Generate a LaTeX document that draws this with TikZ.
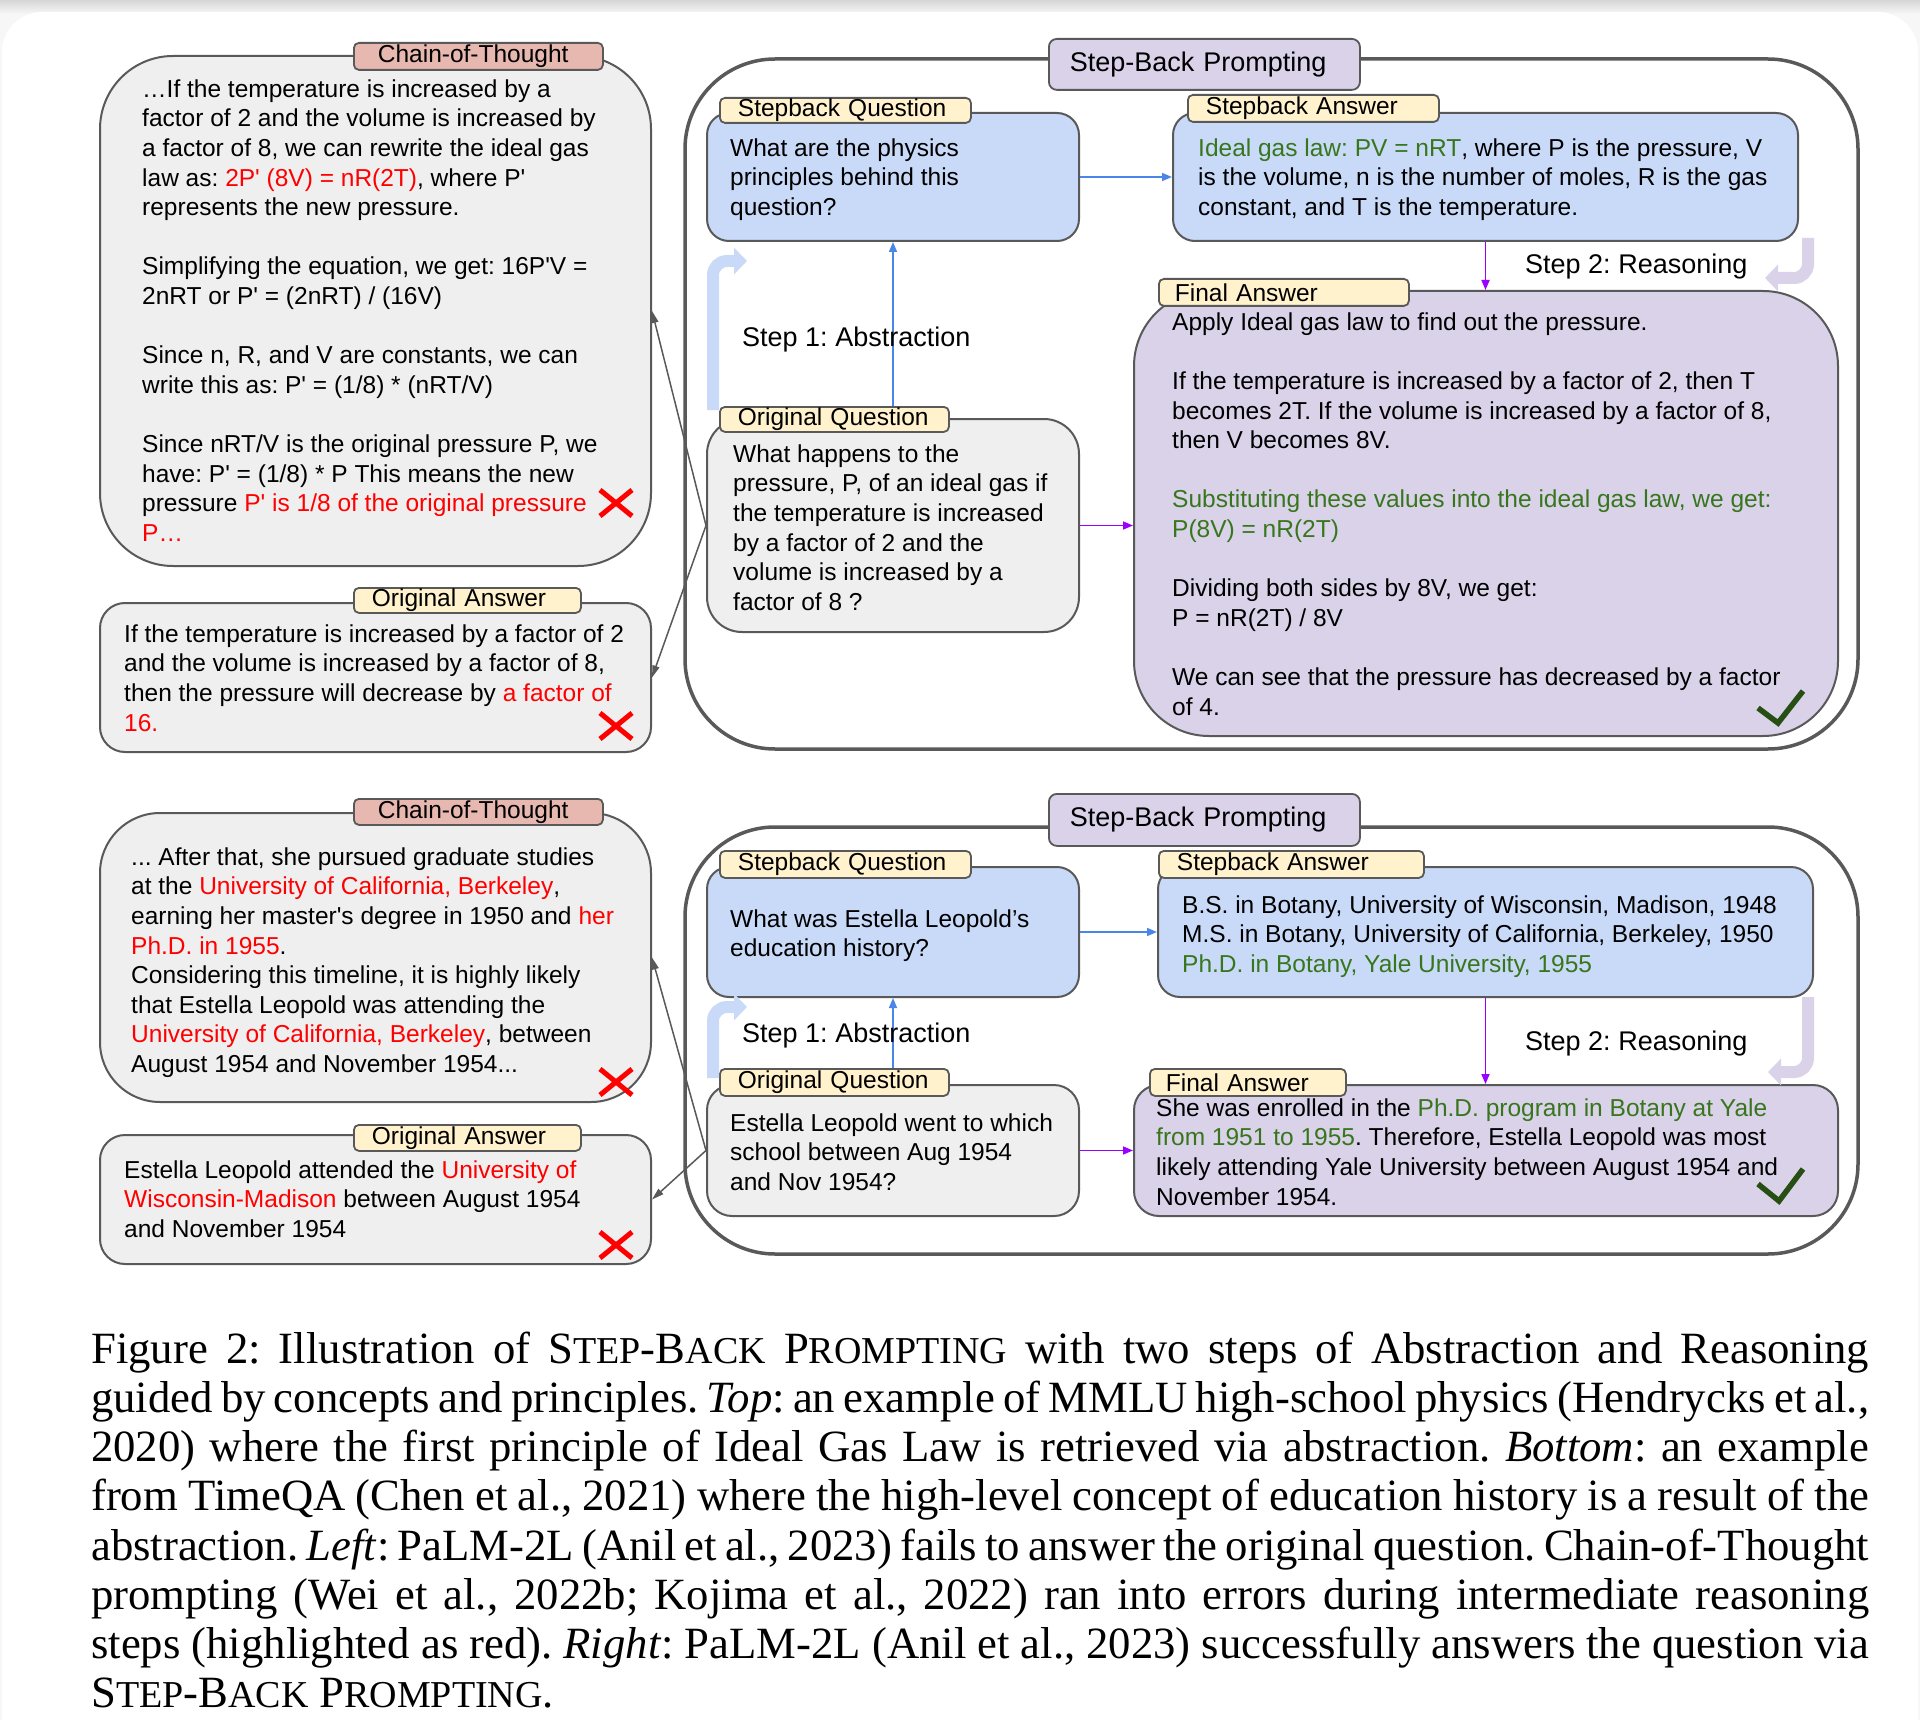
\documentclass[tikz,border=0pt]{standalone}
\usepackage{fontspec}
\setmainfont{Liberation Sans}
\newfontfamily\capfont{Liberation Serif}
\usetikzlibrary{arrows.meta,fit,calc}
\definecolor{bd}{HTML}{595959}
\definecolor{tabyel}{HTML}{FFF2CC}
\definecolor{tabred}{HTML}{E6B8AF}
\definecolor{lav}{HTML}{D9D2E9}
\definecolor{boxgray}{HTML}{EFEFEF}
\definecolor{boxblue}{HTML}{C9DAF8}
\definecolor{txtred}{HTML}{FF0000}
\definecolor{txtgreen}{HTML}{38761D}
\definecolor{chk}{HTML}{274E13}
\definecolor{arblue}{HTML}{4A86E8}
\definecolor{arpurp}{HTML}{9900FF}
\newcommand\rd[1]{\textcolor{txtred}{#1}}
\newcommand\gn[1]{\textcolor{txtgreen}{#1}}
\newcommand\fst{\rule{0pt}{22pt}}
\newcommand\bsk{\\[29.6pt]}
\newcommand\apos{\textquotesingle}
\newcommand\bodyf{\fontsize{24.5}{29.6}\selectfont}
\newcommand\capf{\capfont\fontsize{44.7}{49.2}\selectfont\spaceskip=11pt plus 13pt minus 6pt\relax}
\newcommand\smc[1]{{\fontsize{38}{49.2}\selectfont #1}}
\newcommand\sbp{S\smc{TEP}-B\smc{ACK} P\smc{ROMPTING}}
\newcommand\cl[1]{\makebox[1778pt][s]{#1}}
\frenchspacing
\begin{document}
\begin{tikzpicture}[x=1pt,y=-1pt,
  box/.style={draw=bd, line width=2pt, inner sep=0pt},
  frm/.style={draw=bd, line width=3.5pt, inner sep=0pt, rounded corners=90pt},
  tabb/.style={draw=bd, line width=1.8pt, rounded corners=5pt, inner xsep=18pt, inner ysep=0pt, align=left, font=\bodyf, anchor=north west},
  txt/.style={anchor=north west, inner sep=0pt, align=left, font=\bodyf},
  steplbl/.style={anchor=base west, inner sep=0pt, font=\fontsize{27}{32}\selectfont},
  garrow/.style={draw=bd, line width=1.5pt, -{Triangle[length=12pt,width=7pt]}},
  barrow/.style={draw=arblue, line width=1.6pt, -{Triangle[length=10pt,width=8pt]}},
  parrow/.style={draw=arpurp, line width=1.6pt, -{Triangle[length=10pt,width=8pt]}},
  bent/.style={line width=12pt, rounded corners=14pt, -{Triangle[length=13pt,width=26pt]}},
  redx/.pic={\draw[txtred, line width=5pt] (-16,-13) -- (16,13) (-16,13) -- (16,-13);},
]
\useasboundingbox (0,0) rectangle (1920,1720);
% background card
\fill[black!3] (0,0) rectangle (1920,1720);
\shade[top color=black!16, bottom color=black!3] (0,0) rectangle (1920,14);
\fill[white, rounded corners=40pt] (2,12) rectangle (1918,1780);

% ================= TOP =================
\node[frm, fit={(685,59) (1858,749)}] (frame1) {};
\node[box, fill=boxgray, rounded corners=73pt, fit={(100,56) (651,566)}] (cot1) {};
\node[box, fill=boxgray, rounded corners=25pt, fit={(100,603) (651,752)}] (oa1) {};
\node[box, fill=boxblue, rounded corners=22pt, fit={(707,113) (1079,241)}] (sq1) {};
\node[box, fill=boxblue, rounded corners=22pt, fit={(1173,113) (1798,241)}] (sa1) {};
\node[box, fill=lav, rounded corners=75pt, fit={(1134,291) (1838,736)}] (fa1) {};
\node[box, fill=boxgray, rounded corners=35pt, fit={(707,419) (1079,632)}] (oq1) {};

\node[tabb, fill=tabred, text width=201pt, inner xsep=24pt, minimum height=27pt] (cottab1) at (353,42) {Chain-of-Thought};
\node[tabb, fill=tabyel, text width=191pt, minimum height=25pt] (oatab1) at (353,587) {Original Answer};
\node[tabb, fill=lav, text width=269pt, inner xsep=21pt, minimum height=51pt, font=\fontsize{27}{32}\selectfont, rounded corners=8pt] (spbtab1) at (1048,38) {Step-Back Prompting};
\node[tabb, fill=tabyel, text width=215pt, minimum height=25pt] (sqtab1) at (719,97) {Stepback Question};
\node[tabb, fill=tabyel, text width=215pt, minimum height=27pt] (satab1) at (1187,94) {Stepback Answer};
\node[tabb, fill=tabyel, text width=218pt, inner xsep=16pt, minimum height=27pt] (fatab1) at (1158,278) {Final Answer};
\node[tabb, fill=tabyel, text width=193pt, minimum height=25pt] (oqtab1) at (719,406) {Original Question};

% bent decorative arrows
\coordinate (ba1s) at (713,410); \coordinate (ba1c) at (713,261); \coordinate (ba1e) at (747,261);
\draw[bent, boxblue] (ba1s) -- (ba1c) -- (ba1e);
\coordinate (pa1s) at (1808,238); \coordinate (pa1c) at (1808,278); \coordinate (pa1e) at (1765,278);
\draw[bent, lav] (pa1s) -- (pa1c) -- (pa1e);

% connectors
\draw[garrow] (oq1.west) -- (cot1.east);
\draw[garrow] (oq1.west) -- (oa1.east);
\draw[barrow] (sq1.east) -- (sa1.west);
\draw[barrow] (oq1.north |- oqtab1.north) -- (sq1.south);
\draw[parrow] (sa1.south) -- (sa1.south |- fa1.north);
\draw[parrow] (oq1.east) -- (oq1.east -| fa1.west);

% texts
\node[txt] (cot1t) at (142,75) {\fst…If the temperature is increased by a\\
factor of 2 and the volume is increased by\\
a factor of 8, we can rewrite the ideal gas\\
law as: \rd{2P\apos{} (8V) = nR(2T)}, where P\apos\\
represents the new pressure.\bsk
Simplifying the equation, we get: 16P\apos V =\\
2nRT or P\apos{} = (2nRT) / (16V)\bsk
Since n, R, and V are constants, we can\\
write this as: P\apos{} = (1/8) * (nRT/V)\bsk
Since nRT/V is the original pressure P, we\\
have: P\apos{} = (1/8) * P This means the new\\
pressure \rd{P\apos{} is 1/8 of the original pressure}\\
\rd{P…}};
\node[txt] (oa1t) at (124,620) {\fst If the temperature is increased by a factor of 2\\
and the volume is increased by a factor of 8,\\
then the pressure will decrease by \rd{a factor of}\\
\rd{16.}};
\node[txt] (sq1t) at (730,134) {\fst What are the physics\\principles behind this\\question?};
\node[txt] (sa1t) at (1198,134) {\fst\gn{Ideal gas law: PV = nRT}, where P is the pressure, V\\
is the volume, n is the number of moles, R is the gas\\
constant, and T is the temperature.};
\node[txt] (fa1t) at (1172,308) {\fst Apply Ideal gas law to find out the pressure.\bsk
If the temperature is increased by a factor of 2, then T\\
becomes 2T. If the volume is increased by a factor of 8,\\
then V becomes 8V.\bsk
\gn{Substituting these values into the ideal gas law, we get:}\\
\gn{P(8V) = nR(2T)}\bsk
Dividing both sides by 8V, we get:\\
P = nR(2T) / 8V\bsk
We can see that the pressure has decreased by a factor\\
of 4.};
\node[txt] (oq1t) at (733,440) {\fst What happens to the\\
pressure, P, of an ideal gas if\\
the temperature is increased\\
by a factor of 2 and the\\
volume is increased by a\\
factor of 8 ?};
\node[steplbl] (st1a) at (742,346) {Step 1: Abstraction};
\node[steplbl] (st2a) at (1525,274) {Step 2: Reasoning};

\pic at (616,503) {redx};
\pic at (616,726) {redx};
\draw[chk, line width=5.5pt] (1758,708) -- (1778,723) -- (1803,691);

% ================= BOTTOM =================
\node[frm, fit={(685,827) (1858,1254)}] (frame2) {};
\node[box, fill=boxgray, rounded corners=60pt, fit={(100,813) (651,1102)}] (cot2) {};
\node[box, fill=boxgray, rounded corners=25pt, fit={(100,1135) (651,1264)}] (oa2) {};
\node[box, fill=boxblue, rounded corners=22pt, fit={(707,867) (1079,997)}] (sq2) {};
\node[box, fill=boxblue, rounded corners=22pt, fit={(1158,867) (1813,997)}] (sa2) {};
\node[box, fill=lav, rounded corners=25pt, fit={(1134,1085) (1838,1216)}] (fa2) {};
\node[box, fill=boxgray, rounded corners=25pt, fit={(707,1085) (1079,1216)}] (oq2) {};

\node[tabb, fill=tabred, text width=201pt, inner xsep=24pt, minimum height=26pt] (cottab2) at (353,798) {Chain-of-Thought};
\node[tabb, fill=tabyel, text width=191pt, minimum height=26pt] (oatab2) at (353,1124) {Original Answer};
\node[tabb, fill=lav, text width=269pt, inner xsep=21pt, minimum height=52pt, font=\fontsize{27}{32}\selectfont, rounded corners=8pt] (spbtab2) at (1048,793) {Step-Back Prompting};
\node[tabb, fill=tabyel, text width=215pt, minimum height=27pt] (sqtab2) at (719,850) {Stepback Question};
\node[tabb, fill=tabyel, text width=229pt, minimum height=27pt] (satab2) at (1158,850) {Stepback Answer};
\node[tabb, fill=tabyel, text width=164pt, inner xsep=16pt, minimum height=27pt] (fatab2) at (1149,1068) {Final Answer};
\node[tabb, fill=tabyel, text width=193pt, minimum height=27pt] (oqtab2) at (719,1068) {Original Question};

\coordinate (ba2s) at (713,1078); \coordinate (ba2c) at (713,1007); \coordinate (ba2e) at (747,1007);
\draw[bent, boxblue] (ba2s) -- (ba2c) -- (ba2e);
\coordinate (pa2s) at (1808,997); \coordinate (pa2c) at (1808,1072); \coordinate (pa2e) at (1768,1072);
\draw[bent, lav] (pa2s) -- (pa2c) -- (pa2e);

\draw[garrow] (oq2.west) -- (cot2.east);
\draw[garrow] (oq2.west) -- (oa2.east);
\draw[barrow] (sq2.east) -- (sa2.west);
\draw[barrow] (oq2.north |- oqtab2.north) -- (sq2.south);
\draw[parrow] (sa2.south) -- (sa2.south |- fa2.north);
\draw[parrow] (oq2.east) -- (oq2.east -| fa2.west);

\node[txt] (cot2t) at (131,843) {\fst... After that, she pursued graduate studies\\
at the \rd{University of California, Berkeley},\\
earning her master\apos s degree in 1950 and \rd{her}\\
\rd{Ph.D. in 1955}.\\
Considering this timeline, it is highly likely\\
that Estella Leopold was attending the\\
\rd{University of California, Berkeley}, between\\
August 1954 and November 1954...};
\node[txt] (oa2t) at (124,1156) {\fst Estella Leopold attended the \rd{University of}\\
\rd{Wisconsin-Madison} between August 1954\\
and November 1954};
\node[txt] (sq2t) at (730,905) {\fst What was Estella Leopold’s\\education history?};
\node[txt] (sa2t) at (1182,891) {\fst B.S. in Botany, University of Wisconsin, Madison, 1948\\
M.S. in Botany, University of California, Berkeley, 1950\\
\gn{Ph.D. in Botany, Yale University, 1955}};
\node[txt] (fa2t) at (1156,1094) {\fst She was enrolled in the \gn{Ph.D. program in Botany at Yale}\\
\gn{from 1951 to 1955}. Therefore, Estella Leopold was most\\
likely attending Yale University between August 1954 and\\
November 1954.};
\node[txt] (oq2t) at (730,1109) {\fst Estella Leopold went to which\\
school between Aug 1954\\
and Nov 1954?};
\node[steplbl] (st1b) at (742,1042) {Step 1: Abstraction};
\node[steplbl] (st2b) at (1525,1050) {Step 2: Reasoning};

\pic at (616,1082) {redx};
\pic at (616,1245) {redx};
\draw[chk, line width=5.5pt] (1758,1184) -- (1779,1201) -- (1803,1169);

% ================= CAPTION =================
\node[anchor=north west, inner sep=0pt, align=left, font=\capf] (caption) at (91,1325) {%
\rule{0pt}{38pt}\cl{Figure 2: Illustration of \sbp{} with two steps of Abstraction and Reasoning}\\
\cl{guided by concepts and principles. \textit{Top}: an example of MMLU high-school physics (Hendrycks et al.,}\\
\cl{2020) where the first principle of Ideal Gas Law is retrieved via abstraction. \textit{Bottom}: an example}\\
\cl{from TimeQA (Chen et al., 2021) where the high-level concept of education history is a result of the}\\
\cl{abstraction. \textit{Left}: PaLM-2L (Anil et al., 2023) fails to answer the original question. Chain-of-Thought}\\
\cl{prompting (Wei et al., 2022b; Kojima et al., 2022) ran into errors during intermediate reasoning}\\
\cl{steps (highlighted as red). \textit{Right}: PaLM-2L (Anil et al., 2023) successfully answers the question via}\\
\sbp.};
\end{tikzpicture}
\end{document}
